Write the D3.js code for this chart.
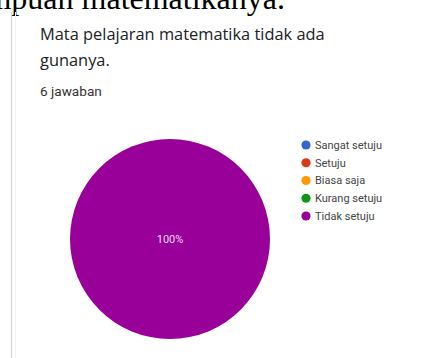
<!DOCTYPE html>
<html>
<head>
<meta charset="utf-8">
<script src="https://cdn.jsdelivr.net/npm/d3@7"></script>
<style>
  html, body { margin: 0; padding: 0; background: #fff; }
  svg { display: block; }
</style>
</head>
<body>
<svg id="chart" width="437" height="358"></svg>
<script>
const categories = ["Sangat setuju", "Setuju", "Biasa saja", "Kurang setuju", "Tidak setuju"];
const counts = [0, 0, 0, 0, 6];
const colors = ["#3366cc", "#dc3912", "#ff9900", "#109618", "#990099"];
const titleLines = ["Mata pelajaran matematika tidak ada", "gunanya."];
const subtitle = "6 jawaban";
const topText = "kemampuan matematikanya.";

const svg = d3.select("#chart");

// cut-off document text at top
svg.append("text")
  .attr("x", 285).attr("y", 9)
  .attr("text-anchor", "end")
  .attr("font-family", "Liberation Serif, Times New Roman, serif")
  .attr("font-size", 32)
  .attr("fill", "#000")
  .text(topText);

// card left border
svg.append("line")
  .attr("x1", 11.5).attr("x2", 11.5).attr("y1", 12).attr("y2", 358)
  .attr("stroke", "#d6d6d6").attr("stroke-width", 1.2);
svg.append("line")
  .attr("x1", 15.5).attr("x2", 15.5).attr("y1", 12).attr("y2", 358)
  .attr("stroke", "#f3f3f3").attr("stroke-width", 1);

// title
svg.selectAll("text.title").data(titleLines).join("text")
  .attr("class", "title")
  .attr("x", 40).attr("y", (d, i) => 40 + i * 26)
  .attr("font-family", "Open Sans, Roboto, Arial, sans-serif")
  .attr("font-size", 16.4)
  .attr("fill", "#202124")
  .text(d => d);

svg.append("text")
  .attr("x", 40).attr("y", 96)
  .attr("font-family", "Roboto, Arial, sans-serif")
  .attr("font-size", 13.6)
  .attr("fill", "#333")
  .text(subtitle);

// pie
const cx = 170, cy = 239, r = 100;
const color = d3.scaleOrdinal().domain(categories).range(colors);
const data = categories.map((c, i) => ({ cat: c, value: counts[i] }));
const pie = d3.pie().sort(null).value(d => d.value);
const arc = d3.arc().innerRadius(0).outerRadius(r);
const arcs = pie(data).filter(d => d.value > 0);
const total = d3.sum(counts);

const g = svg.append("g").attr("transform", `translate(${cx},${cy})`);
g.selectAll("path").data(arcs).join("path")
  .attr("d", arc)
  .attr("fill", d => color(d.data.cat));

g.selectAll("text").data(arcs).join("text")
  .attr("transform", d => d.endAngle - d.startAngle >= 2 * Math.PI - 1e-6 ? "translate(0,0)" : `translate(${d3.arc().innerRadius(r*0.6).outerRadius(r*0.6).centroid(d)})`)
  .attr("text-anchor", "middle")
  .attr("dy", "0.35em")
  .attr("font-family", "Roboto, Arial, sans-serif")
  .attr("font-size", 11)
  .attr("fill", "#f0d8f0")
  .text(d => Math.round(d.value / total * 100) + "%");

// legend
const leg = svg.append("g");
const legY = d3.scalePoint().domain(categories).range([145, 216]);
const items = leg.selectAll("g").data(categories).join("g")
  .attr("transform", d => `translate(306,${legY(d)})`);
items.append("circle").attr("r", 4.6).attr("fill", d => color(d));
items.append("text")
  .attr("x", 9).attr("dy", "0.35em")
  .attr("font-family", "Roboto, Arial, sans-serif")
  .attr("font-size", 11)
  .attr("fill", "#444")
  .text(d => d);
</script>
</body>
</html>
